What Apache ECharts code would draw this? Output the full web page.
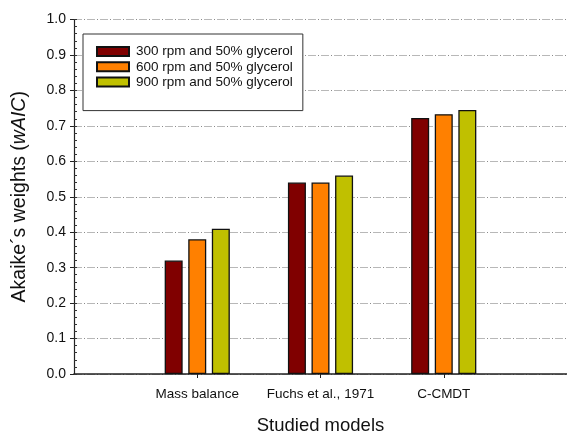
<!DOCTYPE html>
<html>
<head>
<meta charset="utf-8">
<script src="https://cdn.jsdelivr.net/npm/echarts@6/dist/echarts.min.js"></script>
<style>
  html, body { margin: 0; padding: 0; background: #fff; }
  #chart { width: 567px; height: 436px; }
</style>
</head>
<body>
<div id="chart"></div>
<script>
// Model names, padded with blank slots so the groups sit on ticks 1..3
const categories = ['', 'Mass balance', 'Fuchs et al., 1971', 'C-CMDT', ''];
const seriesNames = ['300 rpm and 50% glycerol', '600 rpm and 50% glycerol', '900 rpm and 50% glycerol'];
const rpm300 = [null, 0.32, 0.54, 0.722, null];
const rpm600 = [null, 0.38, 0.54, 0.733, null];
const rpm900 = [null, 0.41, 0.56, 0.745, null];
const yTicks = [0, 0.1, 0.2, 0.3, 0.4, 0.5, 0.6, 0.7, 0.8, 0.9, 1.0];

const colors = ['#800000', '#ff8000', '#c0c000'];
const font = 'Liberation Sans, Arial, sans-serif';

const chart = echarts.init(document.getElementById('chart'), null, { renderer: 'canvas' });

function bar(name, data, color) {
  return {
    name: name,
    type: 'bar',
    data: data,
    barWidth: 18,
    barGap: '31%',
    itemStyle: { color: color, borderColor: '#111', borderWidth: 1.3 },
    emphasis: { disabled: true }
  };
}

const yMin = yTicks[0], yMax = yTicks[yTicks.length - 1];

chart.setOption({
  animation: false,
  textStyle: { fontFamily: font },
  grid: { left: 74, right: 0, top: 19.5, bottom: 62, containLabel: false, outerBoundsMode: 'none' },
  legend: {
    orient: 'vertical',
    left: 83,
    top: 34,
    padding: [10, 10, 21, 13],
    backgroundColor: '#fff',
    borderColor: '#333',
    borderWidth: 1,
    borderRadius: 0,
    itemWidth: 32,
    itemHeight: 9,
    itemGap: 0.3,
    icon: 'rect',
    textStyle: { fontFamily: font, fontSize: 13.5, color: '#111', lineHeight: 15, padding: [0, 0, 0, 2] },
    data: seriesNames
  },
  xAxis: {
    type: 'category',
    data: categories,
    boundaryGap: false,
    name: 'Studied models',
    nameLocation: 'middle',
    nameGap: 42,
    nameTextStyle: { fontFamily: font, fontSize: 18.5, color: '#111' },
    axisLine: { lineStyle: { color: '#222', width: 1.6 } },
    axisTick: {
      length: 4,
      interval: function (i) { return i >= 1 && i <= 3; },
      lineStyle: { color: '#222', width: 1 }
    },
    axisLabel: { fontSize: 13.5, color: '#111', margin: 13, interval: 0 },
    splitLine: { show: false }
  },
  yAxis: [
    {
      type: 'value',
      min: yMin,
      max: yMax,
      interval: 0.1,
      name: '{n|Akaike´s weights (}{i|wAIC}{n|)}',
      nameLocation: 'middle',
      nameGap: 44,
      nameTextStyle: {
        rich: {
          n: { fontFamily: font, fontSize: 19.5, color: '#111' },
          i: { fontFamily: font, fontSize: 19.5, color: '#111', fontStyle: 'italic' }
        }
      },
      axisLine: { show: true, lineStyle: { color: '#222', width: 1.2 } },
      axisTick: { show: true, length: 4, lineStyle: { color: '#222' } },
      axisLabel: {
        fontSize: 14, color: '#111', margin: 8,
        formatter: function (v) { return v.toFixed(1); }
      },
      splitLine: { show: true, lineStyle: { color: '#b8b8b8', type: [8, 5], width: 1 } }
    },
    {
      // inside minor ticks every 0.02
      type: 'value',
      position: 'left',
      offset: 0,
      min: yMin,
      max: yMax,
      interval: 0.02,
      axisLine: { show: false },
      axisTick: { show: true, inside: true, length: 3, lineStyle: { color: '#333' } },
      axisLabel: { show: false },
      splitLine: { show: false }
    },
    {
      // small dark dots threaded through the dashed grid
      type: 'value',
      position: 'left',
      offset: 0,
      min: yMin,
      max: yMax,
      interval: 0.1,
      axisLine: { show: false },
      axisTick: { show: false },
      axisLabel: { show: false },
      splitLine: { show: true, lineStyle: { color: '#8a8a8a', type: [1, 12], dashOffset: -10, width: 1 } }
    }
  ],
  series: [
    bar(seriesNames[0], rpm300, colors[0]),
    bar(seriesNames[1], rpm600, colors[1]),
    bar(seriesNames[2], rpm900, colors[2])
  ]
});
</script>
</body>
</html>
